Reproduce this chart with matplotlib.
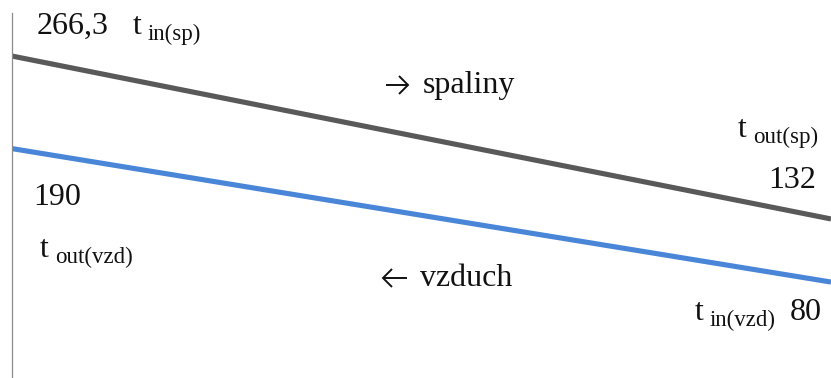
import matplotlib
matplotlib.use("Agg")
import matplotlib.pyplot as plt
from matplotlib.lines import Line2D

# endpoints of the two temperature lines (left -> right)
positions = [0, 1]
spaliny = [266.3, 132]
vzduch = [190, 80]

W, H = 831, 378
fig = plt.figure(figsize=(W / 100, H / 100), dpi=100)
ax = fig.add_axes([12 / W, 0, 1 - 12 / W, 1])

ax.plot(positions, spaliny, color="#595959", lw=3.7, solid_capstyle="butt")
ax.plot(positions, vzduch, color="#4a86d8", lw=3.7, solid_capstyle="butt")

ax.set_xlim(0, 1)
ax.set_ylim(0.9, 312.5)
for s in ["top", "right", "bottom"]:
    ax.spines[s].set_visible(False)
ax.spines["left"].set_color("#8c8c8c")
ax.spines["left"].set_linewidth(0.9)
ax.spines["left"].set_bounds(0.9, 301.8)
ax.set_xticks([])
ax.set_yticks([])

serif = ["Liberation Serif", "DejaVu Serif"]


def label(x, y, s, size=23):
    # x, y in pixels from top-left, y is the baseline
    fig.text(x / W, 1 - y / H, s, fontsize=size, family=serif,
             ha="left", va="baseline", color="#111111")


def temp(x, y, sub):
    label(x, y, "t")
    label(x + 15, y + 6, sub, size=16.5)


def stroke(xs, ys):
    fig.add_artist(Line2D([x / W for x in xs], [1 - y / H for y in ys],
                          transform=fig.transFigure, color="#111111",
                          lw=1.4, solid_capstyle="butt",
                          solid_joinstyle="miter"))


def arrow(x0, x1, y, direction):
    # thin arrow drawn like the "→" / "←" glyph
    stroke([x0, x1], [y, y])
    tip = x1 if direction > 0 else x0
    back = tip - 9 * direction
    stroke([back, tip, back], [y - 9, y, y + 9])


arrow(386, 408, 85, +1)
label(423, 93, "spaliny")

label(37, 34, f"{spaliny[0]}".replace(".", ","))
temp(133, 34, "in(sp)")

temp(738, 137, "out(sp)")
label(768, 188, f"{spaliny[1]}")

label(33, 205, f"{vzduch[0]}")
temp(40, 257, "out(vzd)")

arrow(383, 407, 278, -1)
label(420, 286, "vzduch")

temp(695, 320, "in(vzd)")
label(790, 320, f"{vzduch[1]}")

fig.savefig("out.png", dpi=100)
